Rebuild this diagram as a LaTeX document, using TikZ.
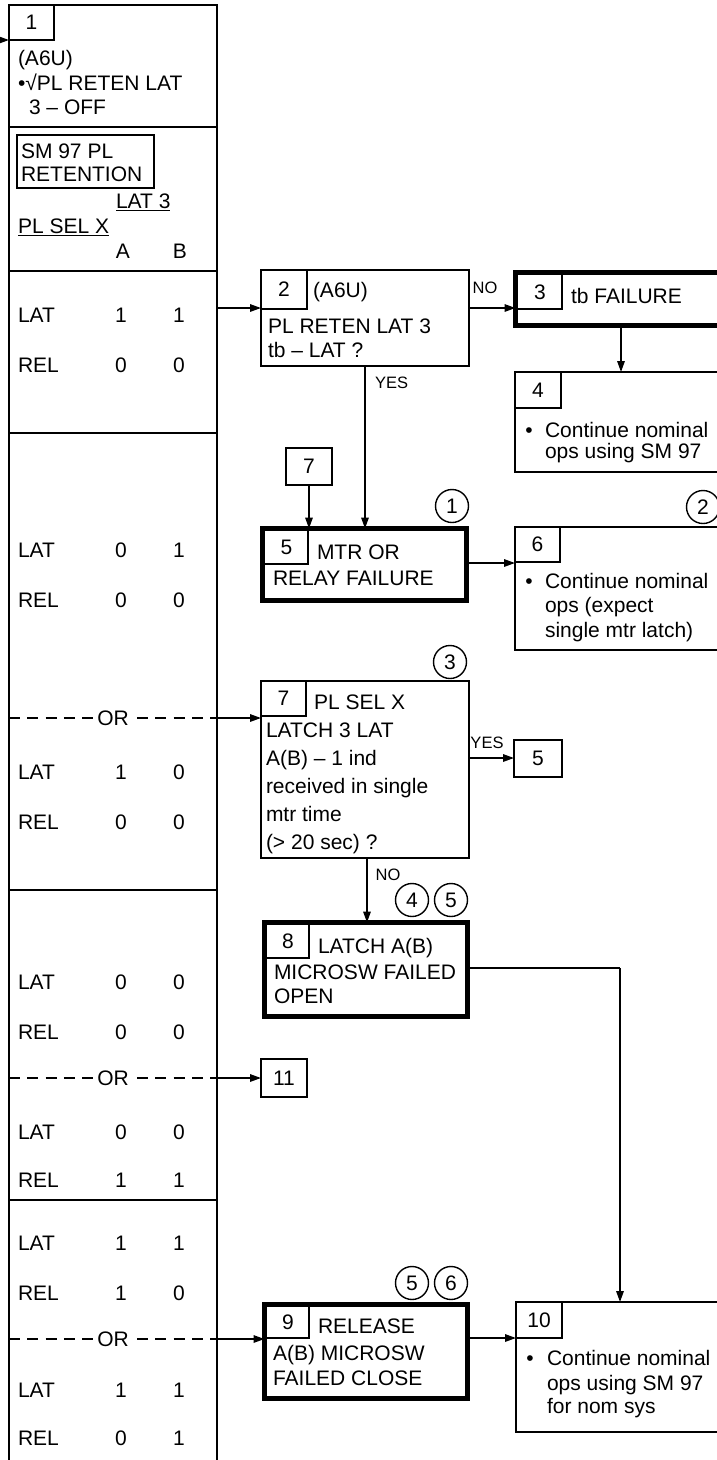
\documentclass[tikz,border=0pt]{standalone}
\usepackage{fontspec}
\setmainfont{Liberation Sans}
\usetikzlibrary{arrows.meta}
\begin{document}
\begin{tikzpicture}[x=1pt,y=-1pt,
  every node/.style={font=\fontsize{21}{25}\selectfont, outer sep=0pt},
  txt/.style={inner sep=0pt, anchor=base west},
  ctxt/.style={inner sep=0pt, anchor=base},
  box/.style={draw, line width=2pt, inner sep=0pt, anchor=north west},
  thickbox/.style={draw, line width=4.5pt, inner sep=0pt, anchor=north west},
  numbox/.style={draw, line width=1.3pt, inner sep=0pt, anchor=north west},
  circ/.style={draw, circle, line width=1.4pt, minimum size=33pt, inner sep=0pt},
  lbl/.style={inner sep=0pt, font=\fontsize{16.5}{18}\selectfont},
  conn/.style={line width=1.6pt, -{Triangle[length=11pt,width=7.5pt]}},
  plainline/.style={line width=1.6pt},
  divline/.style={line width=2pt},
  orline/.style={line width=1.6pt, dash pattern=on 11pt off 7.3pt},
  ornode/.style={fill=white, inner sep=1.5pt},
]
\useasboundingbox (0,0) rectangle (717,1460);
\clip (0,0) rectangle (717,1460);

% ---------------- left column ----------------
\node[box, minimum width=208pt, minimum height=1475pt] (col) at (9,5) {};
\node[numbox, minimum width=45pt, minimum height=35pt] (n1) at (9,5) {1};
\coordinate (in1) at (0,40);
\draw[conn] (in1) -- (col.west |- in1);

\node[txt] (t1a) at (18,65.5) {(A6U)};
\node[txt] (t1b) at (18,90.5) {•√PL RETEN LAT};
\node[txt] (t1c) at (29,114.5) {3 – OFF};
\draw[divline] (col.west |- 0,127) -- (col.east |- 0,127);

\node[draw, line width=1.8pt, anchor=north west, minimum width=137pt, minimum height=53pt] (sm) at (17,135) {};
\node[txt] (sm1) at (21,158.5) {SM 97 PL};
\node[txt] (sm2) at (21,181) {RETENTION};
\node[txt] (lat3) at (116,208) {LAT 3};
\draw[line width=1.5pt] ([yshift=-2.5pt]lat3.base west) -- ([yshift=-2.5pt]lat3.base east);
\node[txt] (plsel) at (18,233) {PL SEL X};
\draw[line width=1.5pt] ([yshift=-2.5pt]plsel.base west) -- ([yshift=-2.5pt]plsel.base east);
\node[ctxt] (ha) at (123,258) {A};
\node[ctxt] (hb) at (180,258) {B};
\draw[divline] (col.west |- 0,271) -- (col.east |- 0,271);

% rows
\node[txt] (r1l) at (18,322.5) {LAT}; \node[ctxt] (r1a) at (121,322.5) {1}; \node[ctxt] (r1b) at (179,322.5) {1};
\node[txt] (r2l) at (18,372.5) {REL}; \node[ctxt] (r2a) at (121,372.5) {0}; \node[ctxt] (r2b) at (179,372.5) {0};
\draw[divline] (col.west |- 0,433) -- (col.east |- 0,433);
\node[txt] (r3l) at (18,557.5) {LAT}; \node[ctxt] (r3a) at (121,557.5) {0}; \node[ctxt] (r3b) at (179,557.5) {1};
\node[txt] (r4l) at (18,607.5) {REL}; \node[ctxt] (r4a) at (121,607.5) {0}; \node[ctxt] (r4b) at (179,607.5) {0};

\draw[orline] (col.west |- 0,718) -- (col.east |- 0,718);
\node[ornode] (or1) at (113,718) {OR};
\node[txt] (r5l) at (18,779.5) {LAT}; \node[ctxt] (r5a) at (121,779.5) {1}; \node[ctxt] (r5b) at (179,779.5) {0};
\node[txt] (r6l) at (18,829.5) {REL}; \node[ctxt] (r6a) at (121,829.5) {0}; \node[ctxt] (r6b) at (179,829.5) {0};
\draw[divline] (col.west |- 0,890) -- (col.east |- 0,890);
\node[txt] (r7l) at (18,989.5) {LAT}; \node[ctxt] (r7a) at (121,989.5) {0}; \node[ctxt] (r7b) at (179,989.5) {0};
\node[txt] (r8l) at (18,1039.5) {REL}; \node[ctxt] (r8a) at (121,1039.5) {0}; \node[ctxt] (r8b) at (179,1039.5) {0};

\draw[orline] (col.west |- 0,1078) -- (col.east |- 0,1078);
\node[ornode] (or2) at (113,1078) {OR};
\node[txt] (r9l) at (18,1139.5) {LAT}; \node[ctxt] (r9a) at (121,1139.5) {0}; \node[ctxt] (r9b) at (179,1139.5) {0};
\node[txt] (r10l) at (18,1187.5) {REL}; \node[ctxt] (r10a) at (121,1187.5) {1}; \node[ctxt] (r10b) at (179,1187.5) {1};
\draw[divline] (col.west |- 0,1200) -- (col.east |- 0,1200);
\node[txt] (r11l) at (18,1250.5) {LAT}; \node[ctxt] (r11a) at (121,1250.5) {1}; \node[ctxt] (r11b) at (179,1250.5) {1};
\node[txt] (r12l) at (18,1300.5) {REL}; \node[ctxt] (r12a) at (121,1300.5) {1}; \node[ctxt] (r12b) at (179,1300.5) {0};

\draw[orline] (col.west |- 0,1339) -- (col.east |- 0,1339);
\node[ornode] (or3) at (113,1339) {OR};
\node[txt] (r13l) at (18,1397.5) {LAT}; \node[ctxt] (r13a) at (121,1397.5) {1}; \node[ctxt] (r13b) at (179,1397.5) {1};
\node[txt] (r14l) at (18,1445.5) {REL}; \node[ctxt] (r14a) at (121,1445.5) {0}; \node[ctxt] (r14b) at (179,1445.5) {1};

% ---------------- box 2 ----------------
\node[box, minimum width=208pt, minimum height=96pt] (b2) at (261,270) {};
\node[numbox, minimum width=46pt, minimum height=39pt] (n2) at (261,270) {2};
\node[txt] (t2a) at (313,297) {(A6U)};
\node[txt] (t2b) at (268,333) {PL RETEN LAT 3};
\node[txt] (t2c) at (268,357) {tb – LAT ?};

% ---------------- box 3 ----------------
\node[thickbox, minimum width=229.5pt, minimum height=53pt] (b3) at (515.5,272.5) {};
\node[numbox, minimum width=44.25pt, minimum height=34.25pt] (n3) at (517.75,274.75) {3};
\node[txt] (t3) at (571,303) {tb FAILURE};

% ---------------- box 4 ----------------
\node[box, minimum width=230pt, minimum height=100pt] (b4) at (515,372) {};
\node[numbox, minimum width=46pt, minimum height=36pt] (n4) at (515,372) {4};
\node[ctxt] (t4d) at (529,437) {•};
\node[txt] (t4a) at (545,437) {Continue nominal};
\node[txt] (t4b) at (545,458) {ops using SM 97};

% ---------------- box 7 (reference) ----------------
\node[box, line width=1.5pt, minimum width=46pt, minimum height=37pt] (b7r) at (286,448) {7};

% ---------------- box 5 ----------------
\node[thickbox, minimum width=204pt, minimum height=72pt] (b5) at (262.5,528.5) {};
\node[numbox, minimum width=43.25pt, minimum height=33.25pt] (n5) at (264.75,530.75) {5};
\node[txt] (t5a) at (317,559) {MTR OR};
\node[txt] (t5b) at (273,585) {RELAY FAILURE};
\node[circ] (c1) at (452,506) {1};

% ---------------- box 6 ----------------
\node[box, minimum width=230pt, minimum height=123pt] (b6) at (515,527) {};
\node[numbox, minimum width=45pt, minimum height=35pt] (n6) at (515,527) {6};
\node[ctxt] (t6d) at (529,588) {•};
\node[txt] (t6a) at (545,588) {Continue nominal};
\node[txt] (t6b) at (545,612.5) {ops (expect};
\node[txt] (t6c) at (545,637) {single mtr latch)};
\node[circ] (c2) at (703,507) {2};

% ---------------- box 7 ----------------
\node[box, minimum width=208pt, minimum height=177pt] (b7) at (261,681) {};
\node[numbox, minimum width=45pt, minimum height=35pt] (n7) at (261,681) {7};
\node[txt] (t7a) at (314,709) {PL SEL X};
\node[txt] (t7b) at (266,737) {LATCH 3 LAT};
\node[txt] (t7c) at (266,765) {A(B) – 1 ind};
\node[txt] (t7d) at (266,793) {received in single};
\node[txt] (t7e) at (266,821) {mtr time};
\node[txt] (t7f) at (266,849) {(> 20 sec) ?};
\node[circ] (c3) at (450,662) {3};

% ---------------- box 5 (reference) ----------------
\node[box, line width=1.5pt, minimum width=48pt, minimum height=37pt] (b5r) at (514,740) {5};

% ---------------- box 8 ----------------
\node[thickbox, minimum width=203pt, minimum height=94pt] (b8) at (264.5,922.5) {};
\node[numbox, minimum width=42.25pt, minimum height=33.25pt] (n8) at (266.75,924.75) {8};
\node[txt] (t8a) at (318,953) {LATCH A(B)};
\node[txt] (t8b) at (274,979) {MICROSW FAILED};
\node[txt] (t8c) at (274,1003) {OPEN};
\node[circ] (c4) at (412,900) {4};
\node[circ] (c5) at (451,900) {5};

% ---------------- box 11 ----------------
\node[box, line width=1.5pt, minimum width=46pt, minimum height=38pt] (b11) at (261,1059) {11};

% ---------------- box 9 ----------------
\node[thickbox, minimum width=203pt, minimum height=94pt] (b9) at (264.5,1304.5) {};
\node[numbox, minimum width=42.25pt, minimum height=31.25pt] (n9) at (266.75,1306.75) {9};
\node[txt] (t9a) at (318,1333) {RELEASE};
\node[txt] (t9b) at (273,1360) {A(B) MICROSW};
\node[txt] (t9c) at (273,1385) {FAILED CLOSE};
\node[circ] (c5b) at (412,1283) {5};
\node[circ] (c6) at (451,1283) {6};

% ---------------- box 10 ----------------
\node[box, minimum width=229pt, minimum height=130pt] (b10) at (516,1302) {};
\node[numbox, minimum width=46pt, minimum height=36pt] (n10) at (516,1302) {10};
\node[ctxt] (t10d) at (530,1365) {•};
\node[txt] (t10a) at (547,1365) {Continue nominal};
\node[txt] (t10b) at (547,1390) {ops using SM 97};
\node[txt] (t10c) at (547,1413) {for nom sys};

% ---------------- connectors ----------------
\draw[conn] (col.east |- 0,308) -- (b2.west |- 0,308);
\draw[conn] (b2.east |- 0,308) -- (b3.west |- 0,308);
\node[lbl] (lno1) at (485,288) {NO};
\draw[conn] (b3.south -| 621,0) -- (b4.north -| 621,0);
\draw[conn] (b7r.south) -- (b5.north -| b7r.south);
\draw[conn] (b2.south -| 365,0) -- (b5.north -| 365,0);
\node[lbl, anchor=west] (lyes1) at (375,383) {YES};
\draw[conn] (b5.east |- 0,563) -- (b6.west |- 0,563);

\draw[conn] (col.east |- 0,718) -- (b7.west |- 0,718);
\draw[conn] (b7.east |- 0,758) -- (b5r.west |- 0,758);
\node[lbl] (lyes2) at (487,743) {YES};
\draw[conn] (b7.south -| 367,0) -- (b8.north -| 367,0);
\node[lbl] (lno2) at (388,875) {NO};

\coordinate (bend) at (620,968);
\draw[plainline] (b8.east |- bend) -- (bend);
\draw[conn] (bend) -- (b10.north -| bend);

\draw[conn] (col.east |- 0,1078) -- (b11.west |- 0,1078);
\draw[conn] (col.east |- 0,1339) -- (b9.west |- 0,1339);
\draw[conn] (b9.east |- 0,1338) -- (b10.west |- 0,1338);

\end{tikzpicture}
\end{document}
